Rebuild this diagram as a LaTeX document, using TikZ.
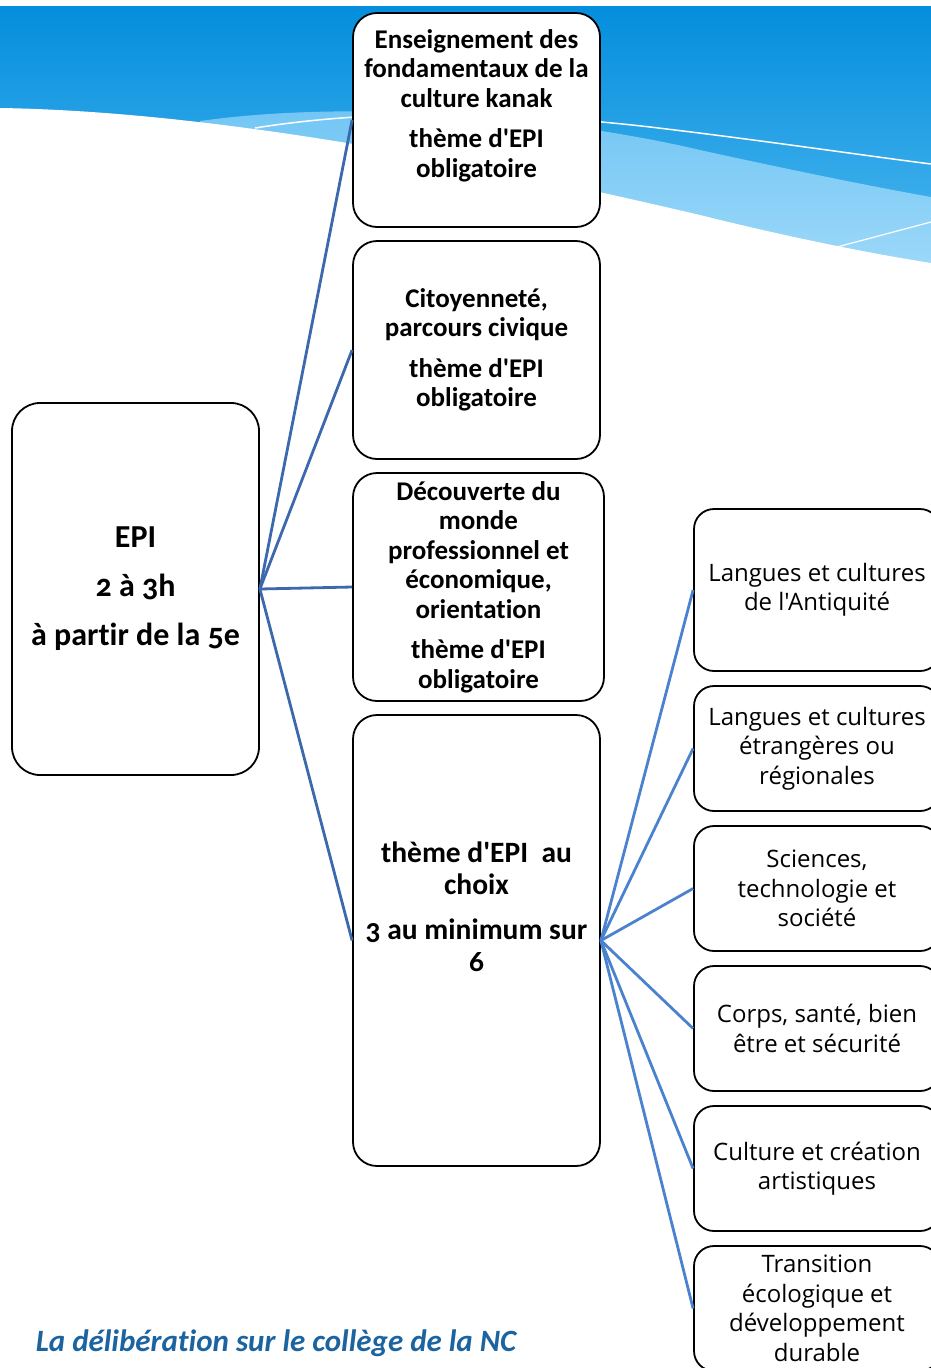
\documentclass[tikz,border=0pt]{standalone}
\usepackage{fontspec}
\setmainfont[Numbers=OldStyle,Ligatures={TeXOff,NoCommon}]{Carlito}
\newfontfamily\choixfont{Open Sans}
\definecolor{ciel}{RGB}{4,142,221}
\definecolor{cielbas}{RGB}{78,184,239}
\definecolor{bande}{RGB}{112,197,244}
\definecolor{bandebas}{RGB}{158,217,249}
\definecolor{lien}{RGB}{60,104,174}
\definecolor{lienclair}{RGB}{74,130,206}
\definecolor{titre}{RGB}{28,100,160}
\tikzset{
  epibox/.style={draw=black,line width=1.8pt,fill=white,rounded corners=28pt,
    minimum width=247pt,minimum height=372pt,inner sep=0pt,align=center,
    font=\bfseries\fontsize{32}{49}\selectfont},
  themebox/.style={draw=black,line width=1.8pt,fill=white,rounded corners=24pt,
    minimum width=247pt,inner sep=0pt,align=center,
    font=\bfseries\fontsize{27}{29.5}\selectfont},
  choixbox/.style={draw=black,line width=1.8pt,fill=white,rounded corners=20pt,
    minimum width=246pt,minimum height=125pt,inner sep=0pt,align=center,
    font=\choixfont\fontsize{24}{29.5}\selectfont},
}
\begin{document}
\begin{tikzpicture}[x=1pt,y=-1pt]
  \useasboundingbox (0,0) rectangle (931,1368);
  \clip (0,0) rectangle (931,1368);

  % fond
  \shade[top color=ciel,bottom color=cielbas] (0,6) rectangle (931,270);
  \shade[top color=bande,bottom color=bandebas] (200,121) .. controls (350,100) and (550,115) .. (700,150)
    .. controls (800,172) and (880,188) .. (931,197) -- (931,275) -- (200,275) -- cycle;
  \fill[white] (0,108) .. controls (250,112) and (550,180) .. (700,215)
    .. controls (800,240) and (880,255) .. (931,263) -- (931,400) -- (0,400) -- cycle;
  \draw[white,line width=1.5pt] (255,128) .. controls (380,108) and (520,112) .. (650,127)
    .. controls (760,140) and (860,155) .. (931,164);
  \draw[white,line width=1.2pt] (837,247) -- (931,222);

  \node[epibox] (epi) at (135.5,589) {EPI\\2 à 3h\\à partir de la 5e};

  \begin{scope}[every node/.style={themebox}]
    \node[minimum height=214pt] (kanak) at (476.5,120)
      {Enseignement des\\fondamentaux de la\\culture kanak\\[11pt]thème d'EPI\\obligatoire\rule[-33pt]{0pt}{1pt}};
    \node[minimum height=218pt] (civique) at (476.5,350)
      {Citoyenneté,\\parcours civique\\[11pt]thème d'EPI\\obligatoire};
    \node[minimum height=228pt,minimum width=251pt] (monde) at (478.5,587)
      {Découverte du\\monde\\professionnel et\\économique,\\orientation\\[11pt]thème d'EPI\\obligatoire};
    \node[minimum height=451pt,font=\bfseries\fontsize{29.5}{32}\selectfont] (choix) at (476.5,940.5)
      {thème d'EPI \ au\\choix\\[13pt]3 au minimum sur\\6\rule[-68pt]{0pt}{1pt}};
  \end{scope}

  \begin{scope}[every node/.style={choixbox}]
    \node[minimum height=162pt] (antiquite) at (817,590) {Langues et cultures\\de l'Antiquité};
    \node (etrangeres) at (817,748.5) {Langues et cultures\\étrangères ou\\régionales};
    \node (sciences) at (817,888.5) {Sciences,\\technologie et\\société};
    \node (corps) at (817,1028.5) {Corps, santé, bien\\être et sécurité};
    \node (culture) at (817,1168.5) {Culture et création\\artistiques};
    \node (transition) at (817,1308.5) {Transition\\écologique et\\développement\\durable};
  \end{scope}

  \begin{scope}[every edge/.style={draw=lien,line width=2.8pt}]
    \path (epi.east) edge (kanak.west);
    \path (epi.east) edge (civique.west);
    \path (epi.east) edge (monde.west);
    \path (epi.east) edge (choix.west);
  \end{scope}

  \begin{scope}[every edge/.style={draw=lienclair,line width=2.8pt}]
    \path (choix.east) edge (antiquite.west);
    \path (choix.east) edge (etrangeres.west);
    \path (choix.east) edge (sciences.west);
    \path (choix.east) edge (corps.west);
    \path (choix.east) edge (culture.west);
    \path (choix.east) edge (transition.west);
  \end{scope}

  \node[font=\bfseries\itshape\fontsize{31}{32}\selectfont,text=titre] (deliberation) at (276,1343)
    {La délibération sur le collège de la NC};

\end{tikzpicture}
\end{document}
